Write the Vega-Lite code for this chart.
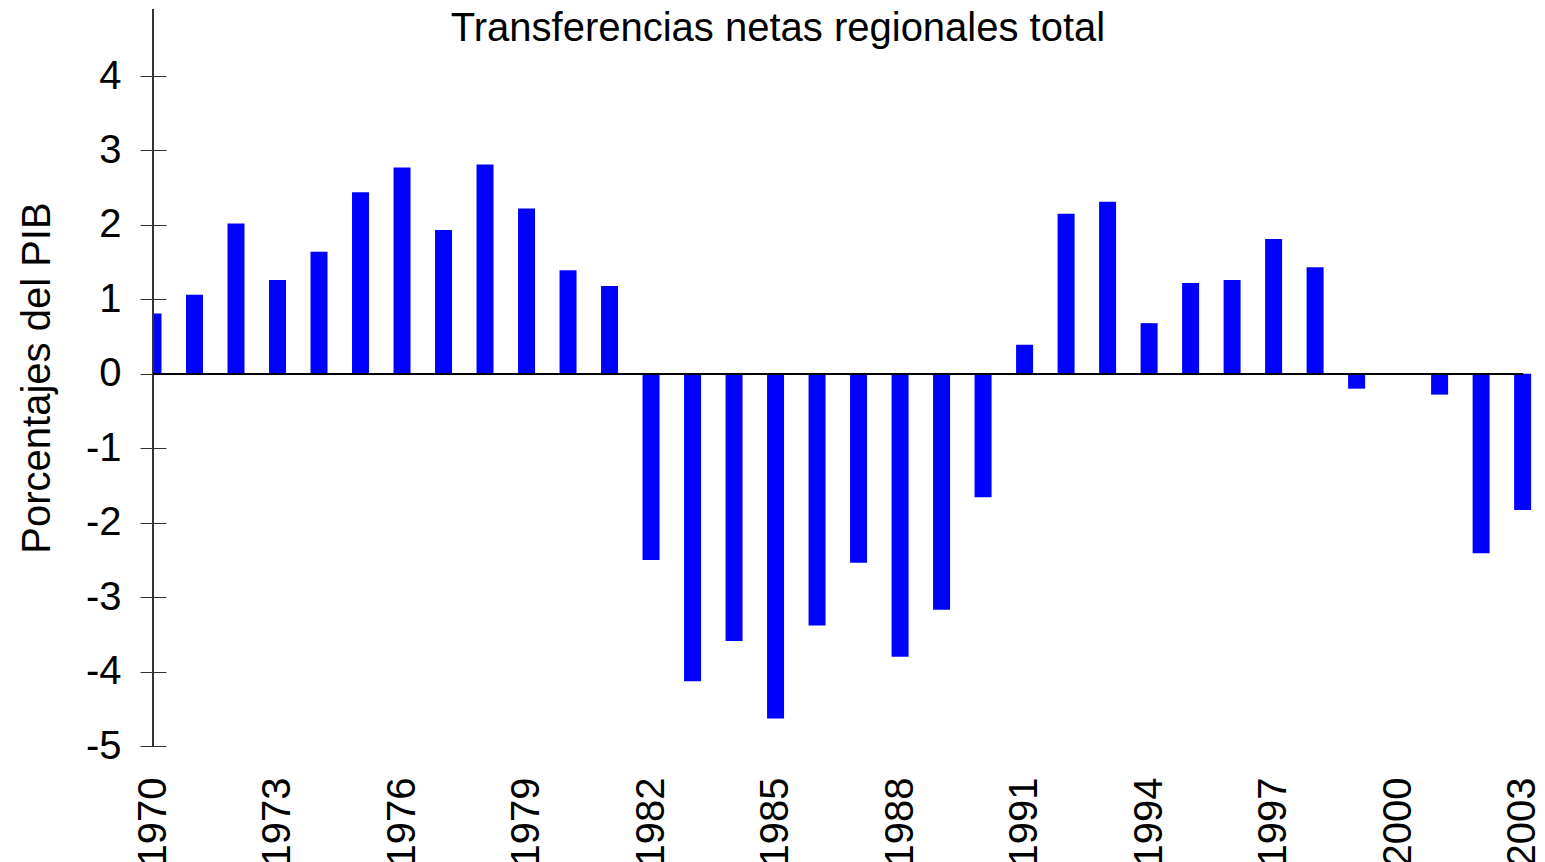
{
  "$schema": "https://vega.github.io/schema/vega-lite/v6.json",
  "autosize": "none",
  "width": 1380,
  "height": 737,
  "padding": {"left": 153, "top": 9, "right": 12, "bottom": 116},
  "background": "white",
  "config": {"font": "Liberation Sans", "view": {"stroke": null}},
  "title": {
    "text": "Transferencias netas regionales total",
    "fontSize": 40,
    "fontWeight": "normal",
    "color": "black",
    "anchor": "middle",
    "frame": "group",
    "baseline": "alphabetic",
    "offset": -73,
    "dx": -65
  },
  "data": {
    "values": [
      {"year": 1970, "value": 0.81},
      {"year": 1971, "value": 1.06},
      {"year": 1972, "value": 2.02},
      {"year": 1973, "value": 1.26},
      {"year": 1974, "value": 1.64},
      {"year": 1975, "value": 2.44},
      {"year": 1976, "value": 2.77},
      {"year": 1977, "value": 1.93},
      {"year": 1978, "value": 2.81},
      {"year": 1979, "value": 2.22},
      {"year": 1980, "value": 1.39},
      {"year": 1981, "value": 1.18},
      {"year": 1982, "value": -2.50},
      {"year": 1983, "value": -4.13},
      {"year": 1984, "value": -3.59},
      {"year": 1985, "value": -4.63},
      {"year": 1986, "value": -3.38},
      {"year": 1987, "value": -2.54},
      {"year": 1988, "value": -3.80},
      {"year": 1989, "value": -3.17},
      {"year": 1990, "value": -1.66},
      {"year": 1991, "value": 0.39},
      {"year": 1992, "value": 2.15},
      {"year": 1993, "value": 2.31},
      {"year": 1994, "value": 0.68},
      {"year": 1995, "value": 1.22},
      {"year": 1996, "value": 1.26},
      {"year": 1997, "value": 1.81},
      {"year": 1998, "value": 1.43},
      {"year": 1999, "value": -0.20},
      {"year": 2000, "value": null},
      {"year": 2001, "value": -0.28},
      {"year": 2002, "value": -2.41},
      {"year": 2003, "value": -1.83}
    ]
  },
  "layer": [
    {
      "mark": {"type": "bar", "color": "#0000FF", "size": 17, "clip": true},
      "encoding": {
        "x": {
          "field": "year",
          "type": "quantitative",
          "scale": {"domain": [1970, 2003.25], "nice": false, "zero": false, "padding": 0},
          "axis": {
            "values": [1970, 1973, 1976, 1979, 1982, 1985, 1988, 1991, 1994, 1997, 2000, 2003],
            "labelExpr": "'' + datum.value",
            "title": null,
            "labelAngle": 270,
            "labelAlign": "right",
            "labelBaseline": "middle",
            "labelFontSize": 40,
            "labelColor": "black",
            "labelPadding": 31,
            "labelOverlap": false,
            "labelFlush": false,
            "domain": false,
            "ticks": false,
            "grid": false
          }
        },
        "y": {
          "field": "value",
          "type": "quantitative",
          "scale": {"domain": [-5, 4.9], "nice": false, "zero": false, "padding": 0},
          "axis": {
            "values": [-5, -4, -3, -2, -1, 0, 1, 2, 3, 4],
            "labelExpr": "'' + datum.value",
            "title": "Porcentajes del PIB",
            "titleFontSize": 40,
            "titleFontWeight": "normal",
            "titleColor": "black",
            "titlePadding": 28,
            "labelFontSize": 40,
            "labelColor": "black",
            "labelPadding": 19,
            "labelFlush": false,
            "labelOverlap": false,
            "offset": -13,
            "tickSize": 26,
            "tickColor": "#333333",
            "tickWidth": 1,
            "domain": false,
            "grid": false
          }
        },
        "y2": {"datum": 0}
      }
    },
    {
      "mark": {"type": "rule", "color": "#333333", "strokeWidth": 1.2},
      "encoding": {"x": {"datum": 1970, "type": "quantitative"}}
    },
    {
      "mark": {"type": "rule", "color": "black", "strokeWidth": 1.5},
      "encoding": {
        "y": {"datum": 0, "type": "quantitative"},
        "x": {"datum": 1970, "type": "quantitative"},
        "x2": {"datum": 2003}
      }
    }
  ]
}
